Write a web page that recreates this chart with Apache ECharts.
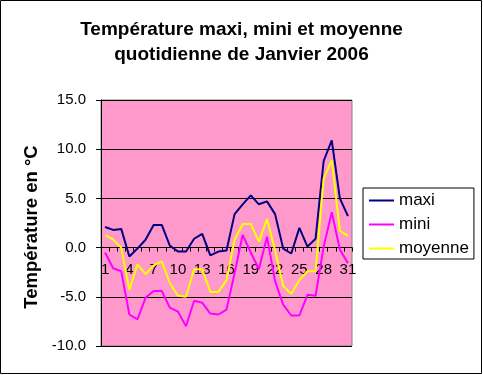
<!DOCTYPE html>
<html>
<head>
<meta charset="utf-8">
<script src="https://cdn.jsdelivr.net/npm/echarts@6/dist/echarts.min.js"></script>
<style>
html,body{margin:0;padding:0;background:#fff;}
#chart{width:483px;height:375px;}
</style>
</head>
<body>
<div id="chart"></div>
<script>
const days = ['1','2','3','4','5','6','7','8','9','10','11','12','13','14','15','16','17','18','19','20','21','22','23','24','25','26','27','28','29','30','31'];
const maxi = [2.1, 1.8, 1.9, -0.9, -0.1, 0.8, 2.3, 2.3, 0.2, -0.4, -0.4, 0.9, 1.4, -0.8, -0.4, -0.3, 3.4, 4.4, 5.3, 4.4, 4.7, 3.4, -0.1, -0.6, 2.0, 0.1, 0.9, 8.8, 10.9, 5.0, 3.2];
const mini = [-0.5, -2.1, -2.4, -6.8, -7.3, -5.1, -4.4, -4.4, -6.1, -6.5, -8.0, -5.4, -5.6, -6.7, -6.8, -6.3, -2.6, 1.3, -0.5, -2.2, 1.1, -3.4, -5.8, -6.9, -6.9, -4.8, -4.9, 0.1, 3.6, -0.2, -1.6];
const moyenne = [1.3, 0.8, 0.0, -4.3, -1.7, -2.7, -1.8, -1.4, -3.6, -4.9, -5.0, -2.2, -2.2, -4.5, -4.5, -3.3, 0.8, 2.4, 2.4, 0.6, 2.9, -0.3, -3.9, -4.7, -3.3, -2.4, -2.4, 7.0, 8.9, 1.7, 1.2];
const seriesNames = ['maxi', 'mini', 'moyenne'];
const titleText = 'Température maxi, mini et moyenne\nquotidienne de Janvier 2006';
const yTitle = 'Température en °C';
const yMin = -10, yMax = 15, yStep = 5;

const FONT = 'Arial, "Liberation Sans", sans-serif';
const chart = echarts.init(document.getElementById('chart'), null, {renderer: 'canvas'});
const colors = ['#000080', '#FF00FF', '#FFFF00'];
const datas = [maxi, mini, moyenne];
const gridTop = 100, gridBottom = 29, H = 375;
const gridH = H - gridTop - gridBottom;
// place the category axis where the value axis crosses 0
const zeroFromBottom = gridH * (0 - yMin) / (yMax - yMin);

chart.setOption({
  animation: false,
  backgroundColor: '#ffffff',
  graphic: [{
    type: 'rect', z: 100, silent: true,
    shape: {x: 0.5, y: 0.5, width: 481, height: 373},
    style: {fill: 'none', stroke: '#000', lineWidth: 1}
  }],
  title: {
    text: titleText,
    left: 'center',
    top: 17,
    padding: 0,
    textStyle: {fontFamily: FONT, fontSize: 19, fontWeight: 'bold', color: '#000', lineHeight: 25}
  },
  legend: {
    orient: 'vertical',
    left: 363,
    top: 188,
    padding: [4, 5, 2, 6],
    itemGap: 7,
    itemWidth: 25,
    itemHeight: 2,
    icon: 'rect',
    borderColor: '#000',
    borderWidth: 1,
    backgroundColor: '#fff',
    textStyle: {fontFamily: FONT, fontSize: 17, color: '#000', lineHeight: 17},
    data: seriesNames
  },
  grid: {
    left: 101, right: 131, top: gridTop, bottom: gridBottom,
    show: true,
    backgroundColor: '#FF99CC',
    borderColor: '#808080',
    borderWidth: 1,
    containLabel: false
  },
  xAxis: {
    type: 'category',
    data: days,
    boundaryGap: true,
    position: 'bottom',
    offset: -zeroFromBottom,
    axisLine: {onZero: false, lineStyle: {color: '#000', width: 1}},
    axisTick: {show: true, interval: 0, length: 4, lineStyle: {color: '#000'}},
    axisLabel: {interval: 2, margin: 15, fontFamily: FONT, fontSize: 15, color: '#000'},
    splitLine: {show: false}
  },
  yAxis: {
    type: 'value',
    min: yMin, max: yMax, interval: yStep,
    name: yTitle,
    nameLocation: 'middle',
    nameGap: 57,
    nameTextStyle: {fontFamily: FONT, fontSize: 18.5, fontWeight: 'bold', color: '#000', padding: [0, 0, 0, -8]},
    axisLine: {show: true, lineStyle: {color: '#000', width: 1}},
    axisTick: {show: true, length: 5, lineStyle: {color: '#000'}},
    axisLabel: {margin: 15, fontFamily: FONT, fontSize: 15, color: '#000', formatter: v => v.toFixed(1)},
    splitLine: {show: true, lineStyle: {color: '#000', width: 1}}
  },
  series: seriesNames.map((n, i) => ({
    name: n,
    type: 'line',
    data: datas[i],
    showSymbol: false,
    symbol: 'none',
    color: colors[i],
    lineStyle: {color: colors[i], width: 2},
    itemStyle: {color: colors[i]}
  }))
});
</script>
</body>
</html>
